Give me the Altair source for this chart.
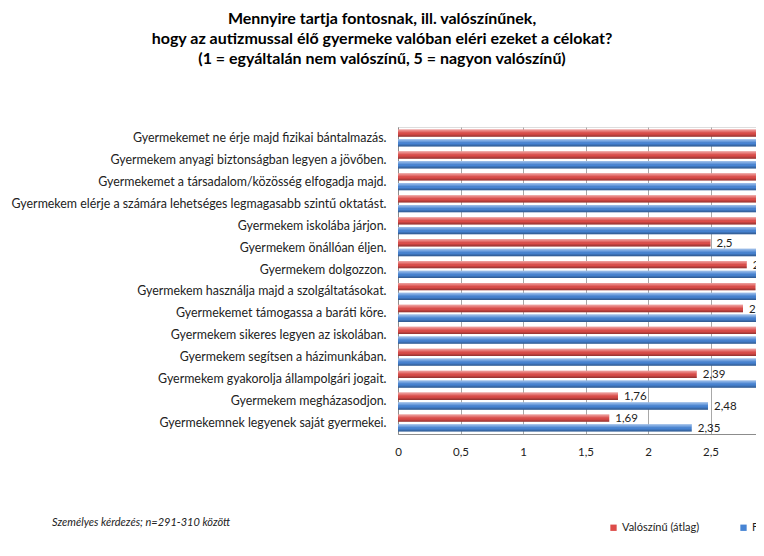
import altair as alt
import pandas as pd

items = [
    "Gyermekemet ne érje majd fizikai bántalmazás.",
    "Gyermekem anyagi biztonságban legyen a jövőben.",
    "Gyermekemet a társadalom/közösség elfogadja majd.",
    "Gyermekem elérje a számára lehetséges legmagasabb szintű oktatást.",
    "Gyermekem iskolába járjon.",
    "Gyermekem önállóan éljen.",
    "Gyermekem dolgozzon.",
    "Gyermekem használja majd a szolgáltatásokat.",
    "Gyermekemet támogassa a baráti köre.",
    "Gyermekem sikeres legyen az iskolában.",
    "Gyermekem segítsen a házimunkában.",
    "Gyermekem gyakorolja állampolgári jogait.",
    "Gyermekem megházasodjon.",
    "Gyermekemnek legyenek saját gyermekei.",
]
likely = [3.45, 3.10, 3.05, 3.20, 3.60, 2.50, 2.79, 2.86, 2.76, 2.91, 3.15, 2.39, 1.76, 1.69]
important = [4.85, 4.78, 4.70, 4.62, 4.55, 4.50, 4.35, 4.20, 4.15, 4.10, 3.90, 3.30, 2.48, 2.35]
series_names = ["Valószínű (átlag)", "Fontosság (átlag)"]
series_colors = ["#DD4C49", "#4784D4"]
x_ticks = [0, 0.5, 1, 1.5, 2, 2.5]

title_lines = [
    "Mennyire tartja fontosnak, ill. valószínűnek,",
    "hogy az autizmussal élő gyermeke valóban eléri ezeket a célokat?",
    "(1 = egyáltalán nem valószínű, 5 = nagyon valószínű)",
]
footnote = "Személyes kérdezés; n=291-310 között"

rows = []
for i, it in enumerate(items):
    rows.append({"item": it, "series": series_names[0], "value": likely[i]})
    rows.append({"item": it, "series": series_names[1], "value": important[i]})
df = pd.DataFrame(rows)
df["label"] = df["value"].map(lambda v: f"{v:g}".replace(".", ","))

FONT = "Lato"

y = alt.Y(
    "item:N",
    sort=items,
    scale=alt.Scale(paddingInner=0.22, paddingOuter=0.11),
    axis=alt.Axis(
        title=None, labelFont=FONT, labelFontSize=12.4, labelColor="#222222",
        labelPadding=12, ticks=False, domainColor="#8c8c8c", labelLimit=420,
    ),
)
yoff = alt.YOffset("series:N", sort=series_names, scale=alt.Scale(paddingInner=0.25))
x = alt.X(
    "value:Q",
    scale=alt.Scale(domain=[0, 2.864], nice=False, zero=True),
    axis=alt.Axis(
        values=x_ticks, title=None,
        labelExpr="replace(format(datum.value, '~g'), '.', ',')",
        ticks=False, labelPadding=12, gridColor="#a8a8a8", domainColor="#8c8c8c",
        labelFont=FONT, labelFontSize=11.5, labelColor="#222222", labelFlush=False,
    ),
)

base = alt.Chart(df)

bars = base.mark_bar(clip=True).encode(
    x=x, y=y, yOffset=yoff,
    color=alt.Color(
        "series:N", sort=series_names,
        scale=alt.Scale(domain=series_names, range=series_colors),
        legend=alt.Legend(
            title=None, orient="none", legendX=210, legendY=395, direction="horizontal",
            symbolType="square", symbolSize=40, symbolStrokeWidth=0,
            labelFont=FONT, labelFontSize=11, labelColor="#222222", columnPadding=38,
            labelOffset=3,
        ),
    ),
)

shade = base.mark_bar(
    clip=True,
    fill=alt.Gradient(
        gradient="linear", x1=0, x2=0, y1=0, y2=1,
        stops=[
            alt.GradientStop(color="rgba(255,255,255,0.5)", offset=0),
            alt.GradientStop(color="rgba(255,255,255,0.15)", offset=0.35),
            alt.GradientStop(color="rgba(0,0,0,0)", offset=0.6),
            alt.GradientStop(color="rgba(0,0,0,0.35)", offset=1),
        ],
    ),
).encode(x=x, y=y, yOffset=yoff)

labels = base.mark_text(
    clip=True, align="left", baseline="middle", dx=6, dy=1,
    font=FONT, fontSize=11.5, color="#222222",
).encode(x=x, y=y, yOffset=yoff, text="label:N")

note_df = pd.DataFrame({"t": [footnote]})
note = alt.Chart(note_df).mark_text(
    align="left", baseline="middle", font=FONT, fontSize=11, fontStyle="italic",
    color="#222222",
).encode(x=alt.value(-346), y=alt.value(396), text="t:N")

chart = (
    alt.layer(bars, shade, labels, note)
    .properties(
        width=358, height=307,
        title=alt.TitleParams(
            text=title_lines, font=FONT, fontSize=16, fontWeight="bold", color="#000000",
            anchor="middle", frame="group", dx=-195, offset=60, lineHeight=20,
        ),
        autosize=alt.AutoSizeParams(type="none"),
        padding={"left": 390, "top": 119, "right": 0, "bottom": 104},
    )
    .configure_view(stroke=None)
    .configure(background="white")
)

chart.save("out.html", embed_options={"renderer": "svg", "actions": False})
